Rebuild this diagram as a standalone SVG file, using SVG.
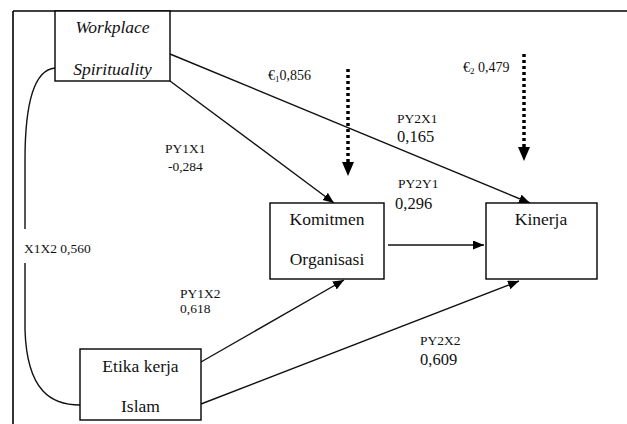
<svg xmlns="http://www.w3.org/2000/svg" width="627" height="424" viewBox="0 0 627 424">
<style>
text{font-family:'Liberation Serif','Times New Roman',serif;fill:#111}
.box{fill:#fff;stroke:#000;stroke-width:1.4}
.bt{font-size:17.5px}
.it{font-style:italic}
.lb{font-size:13.5px}
.lg{font-size:16.5px}
.ep{font-size:14px}
.ln{fill:none;stroke:#111;stroke-width:1.4}
.dot{fill:none;stroke:#000;stroke-width:3.5;stroke-dasharray:3 3}
</style>
<defs>
<marker id="ah" markerUnits="userSpaceOnUse" markerWidth="12" markerHeight="10" refX="11" refY="4.5" orient="auto">
<path d="M0,0 L11,4.5 L0,9 z" fill="#000"/>
</marker>
</defs>
<g id="frame">
<line x1="13" y1="11" x2="627" y2="11" stroke="#000" stroke-width="1.6"/>
<line x1="13" y1="11" x2="13" y2="424" stroke="#000" stroke-width="1.6"/>
</g>
<g id="connectors">
<line class="ln" x1="170" y1="54" x2="530" y2="203" marker-end="url(#ah)"/>
<line class="ln" x1="170" y1="81" x2="334" y2="203" marker-end="url(#ah)"/>
<line class="ln" x1="388" y1="245" x2="484" y2="245" marker-end="url(#ah)"/>
<line class="ln" x1="201" y1="362" x2="344" y2="280" marker-end="url(#ah)"/>
<line class="ln" x1="201" y1="404" x2="519" y2="281" marker-end="url(#ah)"/>
<path class="ln" d="M55,68 C32,70 25,110 25,160 L25,229"/>
<path class="ln" d="M25,263 L25,330 C27,392 52,405 80,405"/>
<line class="dot" x1="348" y1="69" x2="348" y2="163"/>
<path d="M342,162 L354,162 L348,176 z" fill="#000"/>
<line class="dot" x1="524" y1="54" x2="524" y2="148"/>
<path d="M518,147 L530,147 L524,161 z" fill="#000"/>
</g>
<g id="ws">
<rect class="box" x="55" y="11" width="115" height="70"/>
<text class="bt it" x="112.5" y="33" text-anchor="middle">Workplace</text>
<text class="bt it" x="112.5" y="75" text-anchor="middle">Spirituality</text>
</g>
<g id="ko">
<rect class="box" x="270" y="203" width="114" height="76"/>
<text class="bt" x="327" y="225" text-anchor="middle">Komitmen</text>
<text class="bt" x="327" y="265" text-anchor="middle">Organisasi</text>
</g>
<g id="ki">
<rect class="box" x="486" y="203" width="111" height="76"/>
<text class="bt" x="541" y="225" text-anchor="middle">Kinerja</text>
</g>
<g id="eki">
<rect class="box" x="80" y="349" width="121" height="71"/>
<text class="bt" x="140.5" y="372" text-anchor="middle">Etika kerja</text>
<text class="bt" x="140.5" y="412" text-anchor="middle">Islam</text>
</g>
<g id="labels">
<text class="ep" x="268" y="80">€<tspan font-size="9" dy="2">1</tspan><tspan dy="-2">0,856</tspan></text>
<text class="ep" x="463" y="72">€<tspan font-size="9" dy="2">2</tspan><tspan dy="-2"> 0,479</tspan></text>
<text class="lb" x="397" y="123">PY2X1</text>
<text class="lg" x="397" y="142">0,165</text>
<text class="lb" x="165" y="153">PY1X1</text>
<text class="lb" x="168" y="171">-0,284</text>
<text class="lb" x="398" y="188">PY2Y1</text>
<text class="lg" x="395" y="209">0,296</text>
<text class="lb" x="24" y="253">X1X2 0,560</text>
<text class="lb" x="180" y="298">PY1X2</text>
<text class="lb" x="180" y="313">0,618</text>
<text class="lb" x="420" y="345">PY2X2</text>
<text class="lg" x="420" y="365">0,609</text>
</g>
</svg>
